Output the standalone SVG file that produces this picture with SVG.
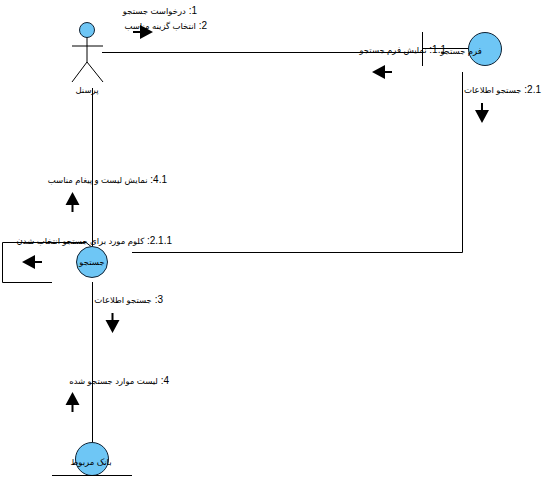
<svg xmlns="http://www.w3.org/2000/svg" width="557" height="486" viewBox="0 0 557 486">
<style>
.c{fill:none;stroke:#000;stroke-width:1}
.o{fill:#6ec6f5;stroke:#123;stroke-width:1}
.h{fill:#000;stroke:none}
text{font-family:"Liberation Sans","DejaVu Sans",sans-serif;font-size:10px;fill:#000}
.p{font-size:8.500px}
.l{direction:rtl;text-anchor:start}
.m{text-anchor:middle;font-size:8.500px}
</style>
<defs>
<path id="ar" d="M0 0L-13 -7V-1H-20V1H-13V7Z" class="h"/>
</defs>
<rect width="557" height="486" fill="#fff"/>
<g id="connectors">
<path class="c" d="M102 52.500H422.500M422.500 32V66M422.500 48.500H469"/>
<path class="c" d="M340 52.500H422"/>
<path class="c" d="M92.500 88V247M92.500 282V442"/>
<path class="c" d="M132 252.500H462.500V72"/>
<path class="c" d="M52 282.500H2.500V242.500H86L93 248"/>
<use href="#ar" transform="translate(153 32)"/>
<use href="#ar" transform="translate(372 72) rotate(180)"/>
<use href="#ar" transform="translate(482 123) rotate(90)"/>
<use href="#ar" transform="translate(72.500 192) rotate(-90)"/>
<use href="#ar" transform="translate(22 262) rotate(180)"/>
<use href="#ar" transform="translate(112.500 333) rotate(90)"/>
<use href="#ar" transform="translate(72.500 392) rotate(-90)"/>
<text class="l" x="197" y="14">1: <tspan class="p">درخواست جستجو</tspan></text>
<text class="l" x="207" y="29">2: <tspan class="p">انتخاب گزینه مناسب</tspan></text>
<text class="l" x="446" y="53">1.1: <tspan class="p">نمایش فرم جستجو</tspan></text>
<text class="l" x="541" y="93">2.1: <tspan class="p">جستجو اطلاعات</tspan></text>
<text class="l" x="167" y="183">4.1: <tspan class="p">نمایش لیست و پیغام مناسب</tspan></text>
<text class="l" x="172" y="244">2.1.1: <tspan class="p">کلوم مورد برای جستجو انتخاب شدن</tspan></text>
<text class="l" x="163" y="303">3: <tspan class="p">جستجو اطلاعات</tspan></text>
<text class="l" x="169" y="384">4: <tspan class="p">لیست موارد جستجو شده</tspan></text>
</g>
<g id="actor">
<circle class="o" cx="87" cy="30" r="7.500"/>
<path class="c" d="M87 37.500V62M72 46H103M72 82L87 62L103 82"/>
<text class="m" x="87" y="93">پرسنل</text>
</g>
<g id="form">
<circle class="o" cx="485" cy="49" r="16.500"/>
<text class="m" x="461" y="54">فرم جستجو</text>
</g>
<g id="search">
<circle class="o" cx="92" cy="262" r="15.500"/>
<text class="m" x="92" y="265">جستجو</text>
</g>
<g id="bank">
<circle class="o" cx="92" cy="459" r="16.500"/>
<path class="c" d="M52 475.500H132"/>
<text class="m" x="91" y="465">بانک مربوط</text>
</g>
</svg>
